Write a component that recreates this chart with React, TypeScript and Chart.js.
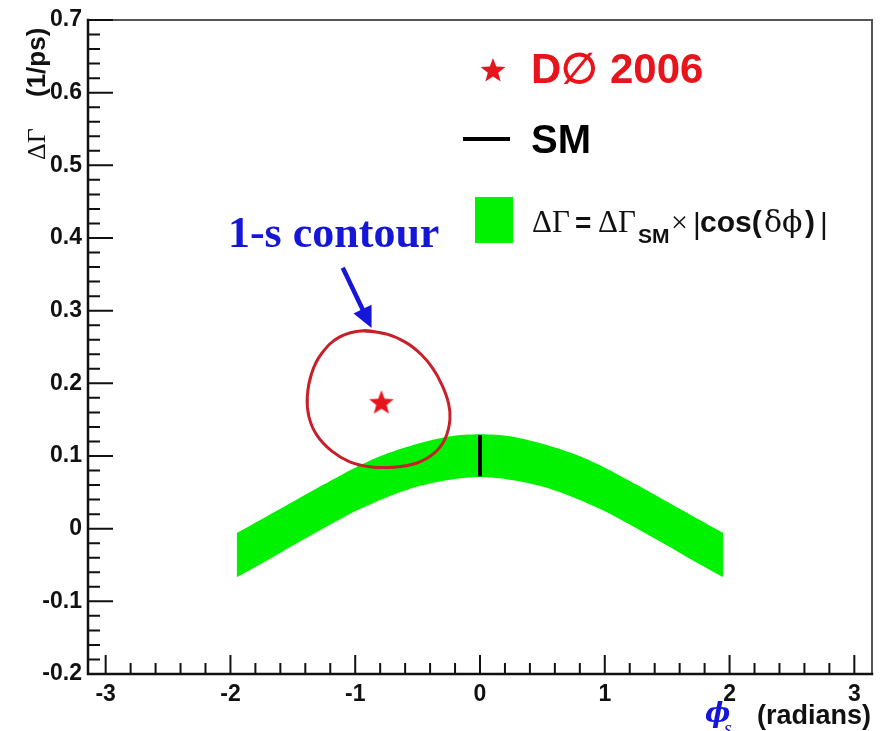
import React, { useEffect, useRef } from 'react';
import { Chart, registerables } from 'chart.js';

Chart.register(...registerables);

// ---- axes ----
const X_MIN = -Math.PI;
const X_MAX = Math.PI;
const Y_MIN = -0.2;
const Y_MAX = 0.7;
const xTickValues = [-3, -2, -1, 0, 1, 2, 3];
const xTickLabels = ['-3', '-2', '-1', '0', '1', '2', '3'];
const yTickValues = [-0.2, -0.1, 0, 0.1, 0.2, 0.3, 0.4, 0.5, 0.6, 0.7];
const yTickLabels = ['-0.2', '-0.1', '0', '0.1', '0.2', '0.3', '0.4', '0.5', '0.6', '0.7'];

// ---- green band  ΔΓ = ΔΓ_SM × |cos(δφ)| ----
const bandPhi = [-1.95, -1.75, -1.5, -1.25, -1.0, -0.75, -0.5, -0.25, 0, 0.25, 0.5, 0.75, 1.0, 1.25, 1.5, 1.75, 1.95];
const bandUpper = [-0.006, 0.013, 0.037, 0.061, 0.084, 0.103, 0.117, 0.127, 0.130, 0.127, 0.117, 0.103, 0.084, 0.061, 0.037, 0.013, -0.006];
const bandLower = [-0.067, -0.048, -0.023, 0.001, 0.024, 0.043, 0.058, 0.067, 0.071, 0.067, 0.058, 0.043, 0.024, 0.001, -0.023, -0.048, -0.067];

// ---- SM value ----
const smPhi = [0, 0];
const smDG = [0.072, 0.129];

// ---- D0 2006 measurement ----
const d0Phi = [-0.79];
const d0DG = [0.174];

// ---- 1-sigma contour ----
const contourPhi = [-0.938, -0.752, -0.592, -0.473, -0.38, -0.305, -0.252, -0.241, -0.279, -0.367, -0.512, -0.699, -0.884, -1.044, -1.19, -1.309, -1.371, -1.384, -1.349, -1.269, -1.124];
const contourDG = [0.2725, 0.268, 0.256, 0.24, 0.221, 0.198, 0.1725, 0.15, 0.124, 0.104, 0.09, 0.0845, 0.0853, 0.092, 0.107, 0.129, 0.154, 0.182, 0.214, 0.241, 0.264];

// ---- annotation anchors (data coordinates) ----
const labelAnchor = { x: -2.02, y: 0.388 };
const arrowTail = { x: -1.1, y: 0.359 };
const arrowTip = { x: -0.869, y: 0.276 };

const SANS = '"Liberation Sans", Arial, Helvetica, sans-serif';
const SERIF = '"Liberation Serif", "Times New Roman", serif';
const GREEK = '"DejaVu Serif", serif';
const GREEN = '#00f200';
const STAR_RED = '#e8141c';
const CONTOUR_RED = '#c8202a';
const BLUE = '#1616d8';

function starPath(ctx: CanvasRenderingContext2D, cx: number, cy: number, R: number, r: number) {
  ctx.beginPath();
  for (let i = 0; i < 10; i++) {
    const a = -Math.PI / 2 + (i * Math.PI) / 5;
    const rad = i % 2 === 0 ? R : r;
    const px = cx + rad * Math.cos(a);
    const py = cy + rad * Math.sin(a);
    if (i === 0) ctx.moveTo(px, py);
    else ctx.lineTo(px, py);
  }
  ctx.closePath();
}

function makeStar(R: number, color: string) {
  const c = document.createElement('canvas');
  const s = Math.ceil(R * 2 + 4);
  c.width = s;
  c.height = s;
  const g = c.getContext('2d')!;
  g.fillStyle = color;
  starPath(g, s / 2, s / 2 + 1, R, R * 0.42);
  g.fill();
  return c;
}

const decorPlugin = {
  id: 'decor',
  afterDraw(chart: any) {
    const ctx: CanvasRenderingContext2D = chart.ctx;
    const xs = chart.scales.x;
    const ys = chart.scales.y;
    const a = chart.chartArea;
    ctx.save();

    // frame
    ctx.lineCap = 'square';
    ctx.strokeStyle = '#555';
    ctx.lineWidth = 2;
    ctx.beginPath();
    ctx.moveTo(a.left, a.top);
    ctx.lineTo(a.right, a.top);
    ctx.lineTo(a.right, a.bottom);
    ctx.stroke();
    ctx.strokeStyle = '#111';
    ctx.lineWidth = 2.5;
    ctx.beginPath();
    ctx.moveTo(a.left, a.top);
    ctx.lineTo(a.left, a.bottom);
    ctx.lineTo(a.right, a.bottom);
    ctx.stroke();

    // ticks (inward)
    ctx.lineCap = 'butt';
    ctx.lineWidth = 2;
    ctx.beginPath();
    for (let k = -10; k <= 35; k++) {
      const v = k * 0.02;
      if (v < Y_MIN - 1e-9 || v > Y_MAX + 1e-9) continue;
      const y = ys.getPixelForValue(v);
      const len = k % 5 === 0 ? 25 : 12;
      ctx.moveTo(a.left, y);
      ctx.lineTo(a.left + len, y);
    }
    for (let k = -20; k <= 20; k++) {
      const v = k * 0.2;
      if (v < X_MIN || v > X_MAX) continue;
      const x = xs.getPixelForValue(v);
      const len = k % 5 === 0 ? 19 : 11;
      ctx.moveTo(x, a.bottom);
      ctx.lineTo(x, a.bottom - len);
    }
    ctx.stroke();

    // y axis title (rotated)
    ctx.save();
    ctx.translate(45, 160);
    ctx.rotate(-Math.PI / 2);
    ctx.fillStyle = '#111';
    ctx.textBaseline = 'alphabetic';
    ctx.textAlign = 'left';
    ctx.font = `26px ${SERIF}`;
    ctx.fillText('\u0394\u0393', 0, 0);
    ctx.font = `bold 26px ${SANS}`;
    ctx.fillText('(1/ps)', 63, 0);
    ctx.restore();

    // x axis title
    ctx.textAlign = 'left';
    ctx.textBaseline = 'alphabetic';
    ctx.fillStyle = BLUE;
    ctx.font = `italic bold 27px ${GREEK}`;
    ctx.fillText('\u03d5', 705, 722);
    ctx.font = `italic 20px ${SERIF}`;
    ctx.fillText('s', 724, 735);
    ctx.fillStyle = '#111';
    ctx.font = `bold 27px ${SANS}`;
    ctx.fillText('(radians)', 757, 724);

    // legend
    ctx.fillStyle = STAR_RED;
    starPath(ctx, 493, 71, 13, 13 * 0.42);
    ctx.fill();
    ctx.font = `bold 42px ${SANS}`;
    ctx.fillText('D\u2205 2006', 531, 83);

    ctx.strokeStyle = '#000';
    ctx.lineWidth = 4;
    ctx.beginPath();
    ctx.moveTo(463, 139);
    ctx.lineTo(510, 139);
    ctx.stroke();
    ctx.fillStyle = '#000';
    ctx.font = `bold 40px ${SANS}`;
    ctx.fillText('SM', 531, 153);

    ctx.fillStyle = GREEN;
    ctx.fillRect(475, 197, 38, 46);

    ctx.fillStyle = '#111';
    ctx.font = `31px ${SERIF}`;
    ctx.fillText('\u0394\u0393', 532, 232);
    ctx.font = `bold 28px ${SANS}`;
    ctx.fillText('=', 575, 232);
    ctx.font = `31px ${SERIF}`;
    ctx.fillText('\u0394\u0393', 598, 232);
    ctx.font = `bold 21px ${SANS}`;
    ctx.fillText('SM', 638, 243);
    ctx.font = `30px ${SERIF}`;
    ctx.fillText('\u00d7', 671, 232);
    ctx.font = `30px ${SANS}`;
    ctx.fillText('|', 693, 234);
    ctx.font = `bold 30px ${SANS}`;
    ctx.fillText('cos(', 700, 232);
    ctx.font = `30px ${GREEK}`;
    ctx.fillText('\u03b4', 764, 232);
    ctx.fillText('\u03d5', 782, 232);
    ctx.font = `bold 30px ${SANS}`;
    ctx.fillText(')', 805, 232);
    ctx.font = `30px ${SANS}`;
    ctx.fillText('|', 820, 234);

    // annotation
    ctx.fillStyle = BLUE;
    ctx.font = `bold 44px ${SERIF}`;
    ctx.fillText('1-s contour', xs.getPixelForValue(labelAnchor.x), ys.getPixelForValue(labelAnchor.y));

    const tx = xs.getPixelForValue(arrowTail.x);
    const ty = ys.getPixelForValue(arrowTail.y);
    const hx = xs.getPixelForValue(arrowTip.x);
    const hy = ys.getPixelForValue(arrowTip.y);
    const dx = hx - tx;
    const dy = hy - ty;
    const L = Math.hypot(dx, dy);
    const ux = dx / L;
    const uy = dy / L;
    const headLen = 21;
    const headHalf = 10;
    const bx = hx - ux * headLen;
    const by = hy - uy * headLen;
    ctx.strokeStyle = BLUE;
    ctx.lineWidth = 4.5;
    ctx.beginPath();
    ctx.moveTo(tx, ty);
    ctx.lineTo(bx + ux * 2, by + uy * 2);
    ctx.stroke();
    ctx.beginPath();
    ctx.moveTo(hx, hy);
    ctx.lineTo(bx - uy * headHalf, by + ux * headHalf);
    ctx.lineTo(bx + uy * headHalf, by - ux * headHalf);
    ctx.closePath();
    ctx.fill();

    ctx.restore();
  },
};

export default function App() {
  const ref = useRef<HTMLCanvasElement | null>(null);

  useEffect(() => {
    if (!ref.current) return;
    const starImg = makeStar(13, STAR_RED);

    const contourPts = contourPhi.map((x, i) => ({ x, y: contourDG[i] }));
    const contourLoop = [...contourPts, contourPts[0], contourPts[1]];

    const tickFont = { family: SANS, size: 23, weight: 'bold' as const };

    const chart = new Chart(ref.current, {
      type: 'line',
      data: {
        datasets: [
          {
            label: 'D\u00d8 2006',
            data: d0Phi.map((x, i) => ({ x, y: d0DG[i] })),
            showLine: false,
            pointStyle: starImg as any,
            pointRadius: 13,
            borderColor: STAR_RED,
            backgroundColor: STAR_RED,
          },
          {
            label: '1-s contour',
            data: contourLoop,
            borderColor: CONTOUR_RED,
            borderWidth: 3,
            pointRadius: 0,
            tension: 0.4,
            fill: false,
          },
          {
            label: 'SM',
            data: smPhi.map((x, i) => ({ x, y: smDG[i] })),
            borderColor: '#000',
            borderWidth: 4,
            borderCapStyle: 'butt',
            pointRadius: 0,
            fill: false,
          },
          {
            label: 'band upper',
            data: bandPhi.map((x, i) => ({ x, y: bandUpper[i] })),
            borderColor: GREEN,
            borderWidth: 0,
            backgroundColor: GREEN,
            pointRadius: 0,
            tension: 0.3,
            fill: '+1',
          },
          {
            label: 'band lower',
            data: bandPhi.map((x, i) => ({ x, y: bandLower[i] })),
            borderColor: GREEN,
            borderWidth: 0,
            backgroundColor: GREEN,
            pointRadius: 0,
            tension: 0.3,
            fill: false,
          },
        ],
      },
      options: {
        animation: false,
        responsive: false,
        events: [],
        layout: { padding: { left: 0, top: 20, right: 11, bottom: 0 } },
        plugins: {
          legend: { display: false },
          tooltip: { enabled: false },
        },
        scales: {
          x: {
            type: 'linear',
            min: X_MIN,
            max: X_MAX,
            grid: { display: false, drawTicks: false },
            border: { display: false },
            afterBuildTicks: (scale: any) => {
              scale.ticks = xTickValues.map((v) => ({ value: v }));
            },
            afterFit: (scale: any) => {
              scale.height = 57;
            },
            ticks: {
              autoSkip: false,
              maxRotation: 0,
              padding: 7,
              color: '#111',
              font: tickFont,
              callback: (_v: any, i: number) => xTickLabels[i],
            },
          },
          y: {
            type: 'linear',
            min: Y_MIN,
            max: Y_MAX,
            grid: { display: false, drawTicks: false },
            border: { display: false },
            afterBuildTicks: (scale: any) => {
              scale.ticks = yTickValues.map((v) => ({ value: v }));
            },
            afterFit: (scale: any) => {
              scale.width = 88;
            },
            ticks: {
              autoSkip: false,
              padding: 6,
              color: '#111',
              font: tickFont,
              callback: (_v: any, i: number) => yTickLabels[i],
            },
          },
        },
      } as any,
      plugins: [decorPlugin],
    });

    return () => chart.destroy();
  }, []);

  return (
    <div style={{ position: 'fixed', left: 0, top: 0, width: 886, height: 731, background: '#fff' }}>
      <canvas ref={ref} width={886} height={731} style={{ display: 'block', width: 886, height: 731 }} />
    </div>
  );
}
